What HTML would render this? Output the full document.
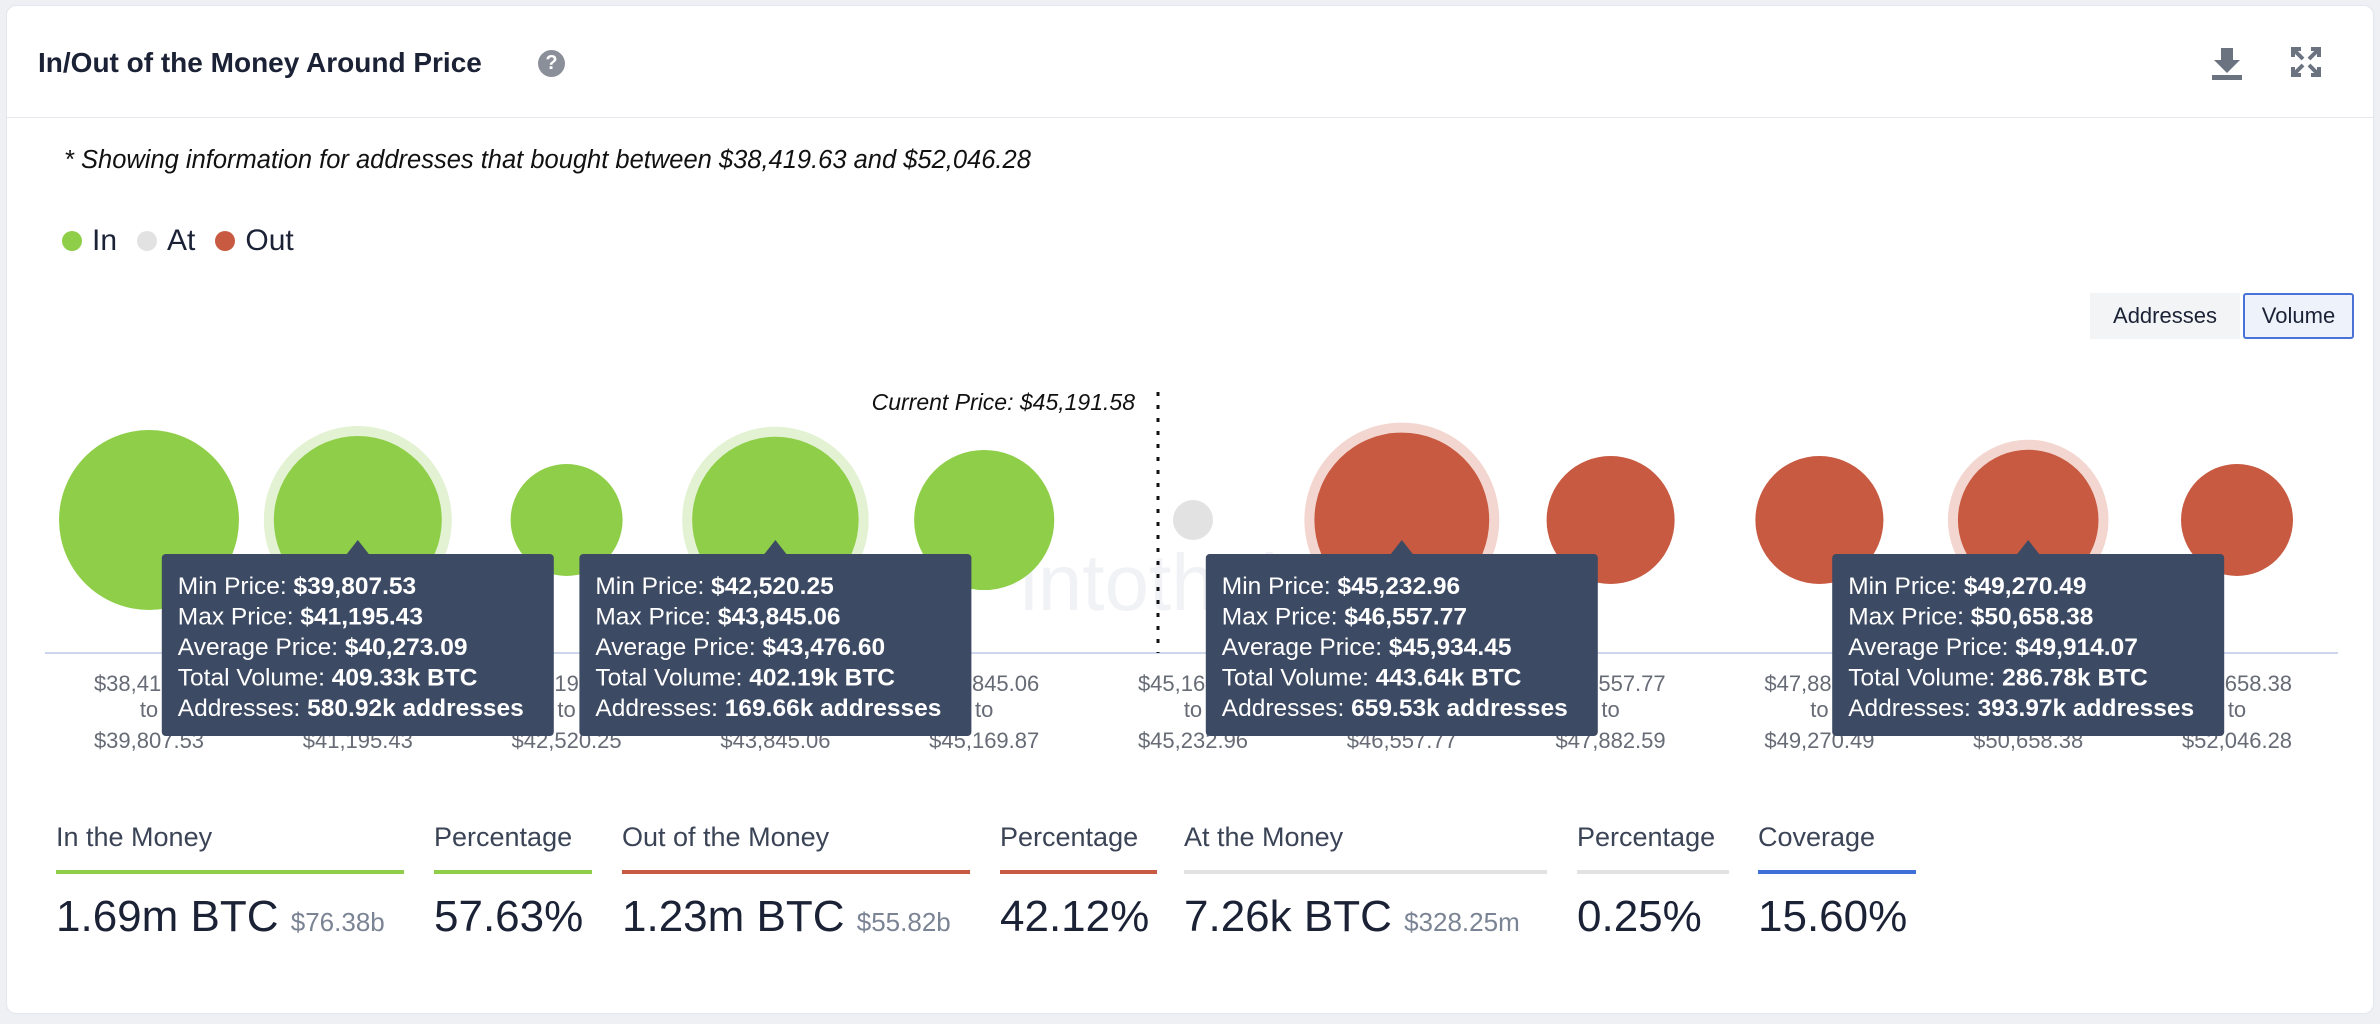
<!DOCTYPE html>
<html><head><meta charset="utf-8">
<style>
*{box-sizing:border-box;margin:0;padding:0}
body{width:2380px;height:1024px;background:#eef0f4;font-family:"Liberation Sans",sans-serif;position:relative;overflow:hidden;color:#1b2236}
#card{position:absolute;left:6px;top:5px;width:2368px;height:1009px;background:#fff;border:1px solid #e3e6ee;border-radius:10px}
.abs{position:absolute}
.stat-label{position:absolute;top:822px;font-size:27px;color:#3b4456}
.stat-line{position:absolute;top:870px;height:4px}
.stat-val{position:absolute;top:892px;font-size:44px;color:#1b2236;white-space:nowrap}
.stat-val small{font-size:26px;color:#7b8494}
</style></head><body>
<div id="card">
<div class="abs" style="left:0;top:111px;width:2366px;height:1px;background:#e6e8ee"></div>
</div>
<div class="abs" style="left:38px;top:47px;font-size:28px;font-weight:bold;color:#1b2236">In/Out of the Money Around Price</div>
<div class="abs" style="left:538px;top:50px;width:27px;height:27px;border-radius:50%;background:#8a8f99;color:#fff;font-size:20px;font-weight:bold;text-align:center;line-height:27px">?</div>
<svg class="abs" style="left:2208px;top:44px" width="38" height="38"><path d="M13 4h12v12h7L19 29 6 16h7z" fill="#6b7280"/><rect x="4" y="31" width="30" height="5" fill="#6b7280"/></svg>
<svg class="abs" style="left:2290px;top:46px" width="32" height="32"><g stroke="#6b7280" stroke-width="4" fill="none"><path d="M3 11V3h8M21 3h8v8M29 21v8h-8M11 29H3v-8M4 4l9 9M28 4l-9 9M28 28l-9-9M4 28l9-9"/></g></svg>
<div class="abs" style="left:64px;top:146px;font-size:25.5px;font-style:italic;color:#111">* Showing information for addresses that bought between $38,419.63 and $52,046.28</div>
<div class="abs" style="left:62px;top:224px;font-size:30px;color:#1b2236;display:flex;align-items:center">
<span style="width:20px;height:20px;border-radius:50%;background:#8fce48;display:inline-block;margin-right:10px"></span><span>In</span>
<span style="width:20px;height:20px;border-radius:50%;background:#e2e2e2;display:inline-block;margin:0 10px 0 20px"></span><span>At</span>
<span style="width:20px;height:20px;border-radius:50%;background:#c85a41;display:inline-block;margin:0 10px 0 20px"></span><span>Out</span>
</div>
<div class="abs" style="left:2090px;top:293px;width:150px;height:46px;background:#f3f4f6;font-size:22px;line-height:46px;text-align:center;color:#1b2236">Addresses</div>
<div class="abs" style="left:2243px;top:293px;width:111px;height:46px;background:#eef2fb;border:2px solid #4a72d6;border-radius:3px;font-size:22px;line-height:42px;text-align:center;color:#1b2236">Volume</div>

<svg id="chart" class="abs" style="left:0;top:0" width="2380" height="1024"></svg>

<div class="stat-label" style="left:56px">In the Money</div>
<div class="stat-line" style="left:56px;width:348px;background:#8fce48"></div>
<div class="stat-val" style="left:56px">1.69m BTC <small>$76.38b</small></div>
<div class="stat-label" style="left:434px">Percentage</div>
<div class="stat-line" style="left:434px;width:158px;background:#8fce48"></div>
<div class="stat-val" style="left:434px">57.63%</div>
<div class="stat-label" style="left:622px">Out of the Money</div>
<div class="stat-line" style="left:622px;width:348px;background:#c85a41"></div>
<div class="stat-val" style="left:622px">1.23m BTC <small>$55.82b</small></div>
<div class="stat-label" style="left:1000px">Percentage</div>
<div class="stat-line" style="left:1000px;width:157px;background:#c85a41"></div>
<div class="stat-val" style="left:1000px">42.12%</div>
<div class="stat-label" style="left:1184px">At the Money</div>
<div class="stat-line" style="left:1184px;width:363px;background:#e2e2e2"></div>
<div class="stat-val" style="left:1184px">7.26k BTC <small>$328.25m</small></div>
<div class="stat-label" style="left:1577px">Percentage</div>
<div class="stat-line" style="left:1577px;width:152px;background:#e2e2e2"></div>
<div class="stat-val" style="left:1577px">0.25%</div>
<div class="stat-label" style="left:1758px">Coverage</div>
<div class="stat-line" style="left:1758px;width:158px;background:#3f6fd8"></div>
<div class="stat-val" style="left:1758px">15.60%</div>

<script>
const binMins=["$38,419.63","$39,807.53","$41,195.43","$42,520.25","$43,845.06","$45,169.87","$45,232.96","$46,557.77","$47,882.59","$49,270.49","$50,658.38"];
const binMaxs=["$39,807.53","$41,195.43","$42,520.25","$43,845.06","$45,169.87","$45,232.96","$46,557.77","$47,882.59","$49,270.49","$50,658.38","$52,046.28"];
const volumes=[470,409.33,182,402.19,285,7.26,443.64,238,238,286.78,182];
const status=["in","in","in","in","in","at","out","out","out","out","out"];
const highlighted=[1,3,6,9];
const tipMin=["$39,807.53","$42,520.25","$45,232.96","$49,270.49"];
const tipMax=["$41,195.43","$43,845.06","$46,557.77","$50,658.38"];
const tipAvg=["$40,273.09","$43,476.60","$45,934.45","$49,914.07"];
const tipVol=["409.33k BTC","402.19k BTC","443.64k BTC","286.78k BTC"];
const tipAddr=["580.92k addresses","169.66k addresses","659.53k addresses","393.97k addresses"];
const currentPriceIndex=5;

const svg=document.getElementById('chart');
const NS='http://www.w3.org/2000/svg';
const x0=149, step=208.8, cy=520, baseY=653;
const xPos=i=>x0+i*step;
const rad=v=>Math.max(20,4.15*Math.sqrt(v));
const fill={in:'#8fce48',at:'#e2e2e2',out:'#c85a41'};
const halo={in:'#e2f2d2',at:'#f2f2f2',out:'#f3d6cf'};
function mk(tag,attrs,parent){const e=document.createElementNS(NS,tag);for(const k in attrs)e.setAttribute(k,attrs[k]);(parent||svg).appendChild(e);return e;}

const wm=mk('text',{x:1020,y:610,'font-size':80,fill:'#f1f2f5','font-family':'Liberation Sans'});
wm.textContent='intotheblock';



const axis=mk('line',{x1:45,x2:2338,y1:baseY,y2:baseY,stroke:'#cdd6ec','stroke-width':2});



volumes.forEach((v,i)=>{
  const r=rad(v);
  if(highlighted.includes(i)){
    const h=mk('circle',{cx:xPos(i),cy:cy,r:r+10,fill:halo[status[i]]});
    
    
  }
  const c=mk('circle',{cx:xPos(i),cy:cy,r:r,fill:fill[status[i]]});
  
  
  const lines=[binMins[i],'to',binMaxs[i]];
  lines.forEach((t,j)=>{
    const tx=mk('text',{x:xPos(i),y:[691,717,748][j],'text-anchor':'middle','font-size':22,fill:'#666b75','font-family':'Liberation Sans'});
    tx.textContent=t;
    
    
  });
});

const cpx=x0+currentPriceIndex*step-35;
const cl=mk('line',{x1:cpx,x2:cpx,y1:392,y2:653,stroke:'#111','stroke-width':3,'stroke-dasharray':'4 9'});


const ct=mk('text',{x:cpx-23,y:410,'text-anchor':'end','font-size':23,'font-style':'italic',fill:'#111','font-family':'Liberation Sans'});
ct.textContent='Current Price: $45,191.58';



highlighted.forEach((bi,k)=>{
  const cx=xPos(bi), w=392, left=cx-196, top=554;
  const g=mk('g',{});
  
  
  mk('path',{d:`M${cx-11} ${top} L${cx} ${top-14} L${cx+11} ${top} Z`,fill:'#3d4a63'},g);
  mk('rect',{x:left,y:top,width:w,height:182,rx:4,fill:'#3d4a63'},g);
  const rows=[['Min Price: ',tipMin[k]],['Max Price: ',tipMax[k]],['Average Price: ',tipAvg[k]],['Total Volume: ',tipVol[k]],['Addresses: ',tipAddr[k]]];
  rows.forEach((r,j)=>{
    const t=mk('text',{x:left+16,y:top+40+j*30.5,'font-size':24.5,fill:'#fff','font-family':'Liberation Sans'},g);
    const a=mk('tspan',{},t);a.textContent=r[0];
    const b=mk('tspan',{'font-weight':'bold'},t);b.textContent=r[1];
  });
});
</script>
</body></html>
